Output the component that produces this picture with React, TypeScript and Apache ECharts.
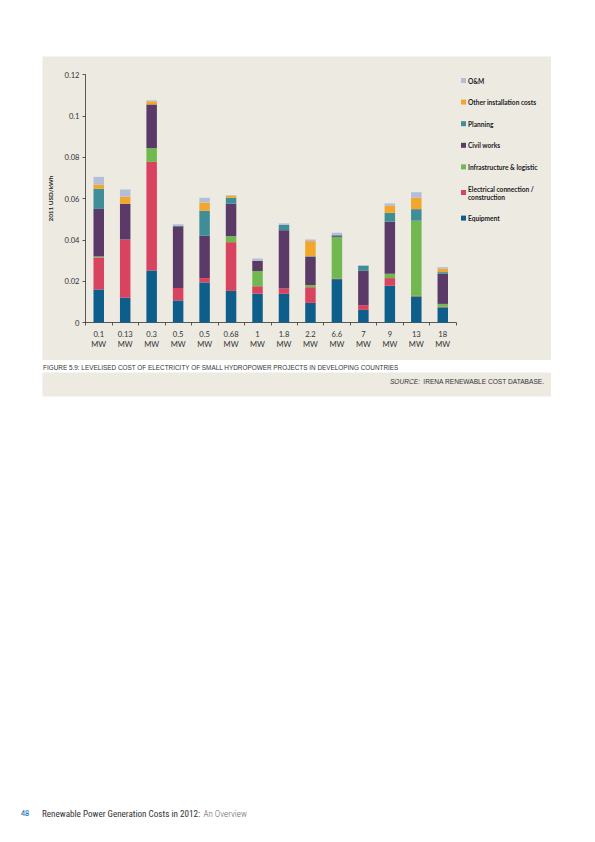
import React, { useEffect, useRef } from "react";
import * as echarts from "echarts";

const sizes = ["0.1", "0.13", "0.3", "0.5", "0.5", "0.68", "1", "1.8", "2.2", "6.6", "7", "9", "13", "18"];
const unit = "MW";

const equipment = [0.016, 0.012, 0.0252, 0.0107, 0.0194, 0.0153, 0.0139, 0.0139, 0.0095, 0.021, 0.0061, 0.0178, 0.0126, 0.0073];
const electrical = [0.0155, 0.0282, 0.0526, 0.006, 0.0021, 0.0236, 0.0037, 0.0026, 0.0076, 0.0003, 0.0023, 0.0037, 0.0003, 0.0003];
const infrastructure = [0.0005, 0, 0.0067, 0, 0, 0.0029, 0.0073, 0, 0.001, 0.02, 0, 0.0021, 0.0364, 0.0014];
const civilWorks = [0.023, 0.0173, 0.0211, 0.0299, 0.0205, 0.0157, 0.005, 0.0282, 0.0137, 0.0005, 0.0166, 0.0252, 0, 0.0146];
const planning = [0.0098, 0, 0, 0.0003, 0.0121, 0.0029, 0, 0.0026, 0.0003, 0.0005, 0.0025, 0.0043, 0.0056, 0.0008];
const otherInstallation = [0.002, 0.0034, 0.0015, 0, 0.0039, 0.001, 0, 0, 0.0073, 0, 0, 0.0034, 0.0055, 0.0016];
const om = [0.0037, 0.0035, 0.0005, 0.0007, 0.0024, 0.0003, 0.0011, 0.0007, 0.0008, 0.0012, 0.0003, 0.0012, 0.0027, 0.0008];

const seriesNames = [
  "Equipment",
  "Electrical connection /\nconstruction",
  "Infrastructure & logistic",
  "Civil works",
  "Planning",
  "Other installation costs",
  "O&M",
];
const seriesValues = [equipment, electrical, infrastructure, civilWorks, planning, otherInstallation, om];
const seriesColors = ["#0e5e8b", "#d8435f", "#70b84f", "#5c3a67", "#3f8e97", "#f2a72b", "#b3bfd6"];

const yTicks = { min: 0, max: 0.12, interval: 0.02 };

const axisFont = "Lato, 'Noto Sans', sans-serif";
const captionFont = "'Liberation Sans', Arial, sans-serif";
const narrowFont = "'Roboto Condensed', 'Liberation Sans Narrow', 'Liberation Sans', Arial, sans-serif";

export default function App() {
  const ref = useRef<HTMLDivElement>(null);

  useEffect(() => {
    document.body.style.margin = "0";
    if (!ref.current) return;
    const chart = echarts.init(ref.current, null, { renderer: "svg" });
    const option: any = {
      animation: false,
      backgroundColor: "#ffffff",
      graphic: [
        { type: "rect", z: -10, silent: true, shape: { x: 42.5, y: 56.5, width: 508.5, height: 303.5 }, style: { fill: "#edeae2" } },
        { type: "rect", z: -10, silent: true, shape: { x: 42.5, y: 372.5, width: 508.5, height: 24 }, style: { fill: "#edeae2" } },
        {
          type: "text",
          left: 43,
          top: 364,
          style: {
            text: "FIGURE 5.9: LEVELISED COST OF ELECTRICITY OF SMALL HYDROPOWER PROJECTS IN DEVELOPING COUNTRIES",
            font: `6.4px ${captionFont}`,
            fill: "#333333",
          },
        },
        {
          type: "text",
          right: 50.5,
          top: 375.5,
          style: {
            text: "{i|SOURCE:} {n|IRENA RENEWABLE COST DATABASE.}",
            rich: {
              i: { fontStyle: "italic", fontSize: 6.6, fontFamily: captionFont, fill: "#333333" },
              n: { fontSize: 6.6, fontFamily: captionFont, fill: "#333333" },
            },
          },
        },
        {
          type: "text",
          left: 21,
          top: 809,
          style: { text: "48", font: `bold 7px ${axisFont}`, fill: "#2a7bb8" },
        },
        {
          type: "text",
          left: 42,
          top: 808,
          style: {
            text: "{a|Renewable Power Generation Costs in 2012:} {b|An Overview}",
            rich: {
              a: { fontSize: 9.1, fontFamily: narrowFont, fill: "#333333" },
              b: { fontSize: 9.1, fontFamily: narrowFont, fill: "#666666", fontWeight: 300 },
            },
          },
        },
      ],
      grid: { left: 85.5, right: 139, top: 74.7, bottom: 842 - 322.5, containLabel: false },
      legend: {
        orient: "vertical",
        left: 461,
        top: 76.5,
        padding: 0,
        itemWidth: 5,
        itemHeight: 5,
        itemGap: 13.6,
        icon: "rect",
        selectedMode: false,
        data: [...seriesNames].reverse(),
        textStyle: { fontFamily: axisFont, fontWeight: "bold", fontSize: 6.6, lineHeight: 8, color: "#222222", padding: [0, 0, 0, -3] },
      },
      xAxis: {
        type: "category",
        data: sizes,
        axisLine: { lineStyle: { color: "#333333", width: 0.8 } },
        axisTick: { show: true, length: 3, lineStyle: { color: "#333333", width: 0.8 } },
        axisLabel: {
          interval: 0,
          margin: 6,
          fontFamily: axisFont,
          fontSize: 7.6,
          lineHeight: 10.5,
          color: "#333333",
          formatter: (v: string) => `${v}\n${unit}`,
        },
      },
      yAxis: {
        type: "value",
        min: yTicks.min,
        max: yTicks.max,
        interval: yTicks.interval,
        name: "2011 USD/kWh",
        nameLocation: "middle",
        nameGap: 28,
        nameTextStyle: { fontFamily: axisFont, fontWeight: "bold", fontSize: 6.4, color: "#222222" },
        axisLine: { show: true, lineStyle: { color: "#333333", width: 0.8 } },
        axisTick: { show: true, length: 3, lineStyle: { color: "#333333", width: 0.8 } },
        splitLine: { show: false },
        axisLabel: { margin: 6, fontFamily: axisFont, fontSize: 7.6, color: "#333333" },
      },
      series: seriesNames.map((name, i) => ({
        name,
        type: "bar",
        stack: "total",
        barWidth: 10.5,
        data: seriesValues[i],
        itemStyle: { color: seriesColors[i] },
        emphasis: { disabled: true },
      })),
    };
    chart.setOption(option);
    return () => chart.dispose();
  }, []);

  return <div ref={ref} style={{ width: 595, height: 842 }} />;
}
